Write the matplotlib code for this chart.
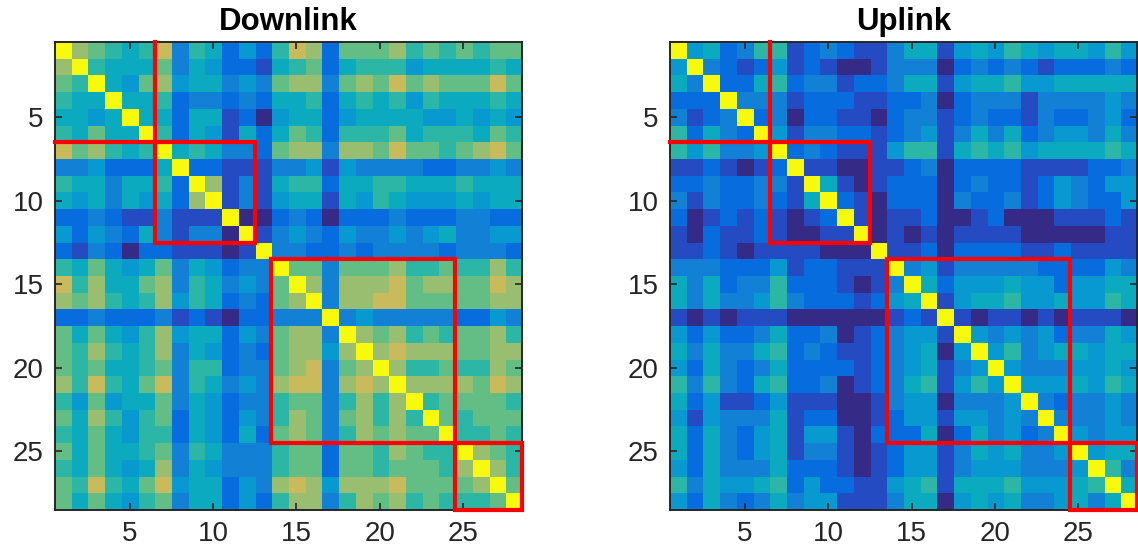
import matplotlib
matplotlib.use('Agg')
import matplotlib.pyplot as plt
from matplotlib.colors import LinearSegmentedColormap
import numpy as np

# colour levels, upper triangle only (row i starts at the diagonal)
# digits 0-9 = colour level, 'x' = diagonal (top of the scale)
downlink_rows = [
    "x876569365242698277786767677",
    "x65557354221567256664555565",
    "x5478455343788378797877797",
    "x556233232556256564655565",
    "x55255120455245555445454",
    "x6254152576266675666576",
    "x565332788388797767897",
    "x22111334143333223343",
    "x8131566255665556555",
    "x131455154654445455",
    "x00232022232223322",
    "x1343243343453344",
    "x332232333323332",
    "x77377786676686",
    "x8388897887798",
    "x388997777788",
    "x34333332243",
    "x8786767786",
    "x898887788",
    "x86676687",
    "x8888798",
    "x677776",
    "x76777",
    "x6676",
    "x876",
    "x86",
    "x7",
    "x",
]

uplink_rows = [
    "x452366123211355145465455464",
    "x32124121001333023232122232",
    "x2256233122355145564455555",
    "x333122211223023331333343",
    "x23022110233123221322342",
    "x4133221234135352344353",
    "x232111466156564555565",
    "x11001123022221111223",
    "x5101222023221243244",
    "x210222032231243224",
    "x10112001200011121",
    "x0101011110000011",
    "x112022221121111",
    "x34133333222243",
    "x5244454424455",
    "x145564454465",
    "x10110101110",
    "x4343423354",
    "x463455455",
    "x43334454",
    "x4445465",
    "x323343",
    "x33343",
    "x4344",
    "x455",
    "x63",
    "x5",
    "x",
]

titles = ["Downlink", "Uplink"]
blocks = [(1, 6), (7, 12), (14, 24), (25, 28)]
ticks = [5, 10, 15, 20, 25]
top_level = 12.5

# parula (every 4th entry of the 64-colour table)
parula = LinearSegmentedColormap.from_list("parula", [
    (0.2081, 0.1663, 0.5292), (0.1959, 0.2645, 0.7279), (0.0117, 0.3875, 0.8820),
    (0.0498, 0.4586, 0.8641), (0.0793, 0.5200, 0.8312), (0.0343, 0.5966, 0.8199),
    (0.0228, 0.6535, 0.7768), (0.0843, 0.6928, 0.7062), (0.2178, 0.7250, 0.6193),
    (0.3953, 0.7459, 0.5244), (0.5709, 0.7485, 0.4494), (0.7184, 0.7411, 0.3905),
    (0.8507, 0.7299, 0.3360), (0.9739, 0.7314, 0.2666), (0.9880, 0.8066, 0.1794),
    (0.9589, 0.8949, 0.1132), (0.9763, 0.9831, 0.0538)])


def to_matrix(rows):
    n = len(rows)
    m = np.zeros((n, n))
    for i, s in enumerate(rows):
        m[i, i:] = [top_level if ch == 'x' else int(ch) for ch in s]
    return np.triu(m) + np.triu(m, 1).T


plt.rcParams['font.family'] = ['Liberation Sans', 'DejaVu Sans']

fig = plt.figure(figsize=(11.38, 5.55), dpi=100)
positions = [[0.0479, 0.0811, 0.4104, 0.8432], [0.5885, 0.0811, 0.4104, 0.8432]]

for pos, rows, title in zip(positions, [downlink_rows, uplink_rows], titles):
    ax = fig.add_axes(pos)
    m = to_matrix(rows)
    n = len(rows)
    ax.imshow(m, cmap=parula, vmin=0, vmax=top_level, interpolation='nearest',
              extent=(0.5, n + 0.5, n + 0.5, 0.5), aspect='auto')
    ax.set_xlim(0.5, n + 0.5)
    ax.set_ylim(n + 0.5, 0.5)
    ax.set_xticks(ticks)
    ax.set_yticks(ticks)
    ax.tick_params(direction='in', length=5, width=1.2, top=True, right=True,
                   labelsize=20, colors='#262626', pad=8)
    for sp in ax.spines.values():
        sp.set_linewidth(1.4)
        sp.set_color('#262626')
    ax.set_title(title, fontsize=22.5, fontweight='bold', pad=9)

    # red boxes around the blocks (edges on the top/left frame are not drawn)
    for a, b in blocks:
        lo, hi = a - 0.5, b + 0.5
        if lo <= 0.5:
            xs, ys = [hi, hi, lo], [lo, hi, hi]
        else:
            xs, ys = [lo, hi, hi, lo, lo], [lo, lo, hi, hi, lo]
        ax.plot(xs, ys, color='red', lw=3, clip_on=False, zorder=4,
                solid_capstyle='projecting', solid_joinstyle='miter')

fig.savefig('out.png', dpi=100)
